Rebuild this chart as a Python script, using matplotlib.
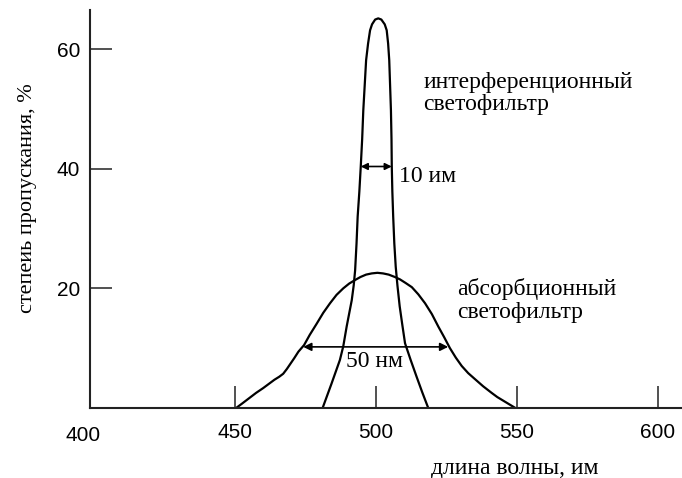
import numpy as np
import matplotlib
matplotlib.use("Agg")
import matplotlib.pyplot as plt

# wavelength (nm) and transmission (%)
interf_nm = [481.1, 484.2, 487.2, 488.4, 489.6, 490.5, 491.4, 492.1, 492.6, 493.1,
             493.5, 494.1, 494.6, 495.1, 495.5, 496.0, 496.5, 497.2, 497.9, 498.6,
             499.7, 500.8, 501.9, 503.1, 503.8, 504.3, 504.7, 505.0, 505.3, 505.5,
             505.6, 505.8, 506.1, 506.5, 507.0, 507.6, 508.4, 509.3, 510.3, 512.3,
             514.4, 516.4, 518.5]
interf_val = [0.0, 4.0, 8.0, 10.3, 13.6, 15.8, 18.0, 20.5, 23.0, 27.5,
              32.0, 36.2, 40.4, 45.0, 49.8, 54.0, 58.2, 61.0, 63.2, 64.2,
              65.0, 65.2, 65.0, 64.2, 63.2, 61.0, 58.2, 54.0, 49.8, 45.0,
              40.4, 36.2, 32.0, 27.5, 23.6, 20.5, 17.0, 14.0, 10.8, 8.0,
              5.2, 2.6, 0.0]

absorb_nm = [450.5, 452.5, 455.0, 457.5, 460.0, 462.0, 464.0, 465.7, 467.1, 468.4,
             469.7, 471.0, 472.5, 474.5, 476.5, 479.0, 481.3, 483.7, 486.0, 488.4,
             490.5, 492.6, 494.5, 496.5, 498.5, 500.5, 502.5, 504.5, 506.7, 508.5,
             510.5, 512.7, 515.0, 517.4, 519.8, 522.1, 524.2, 526.2, 528.3, 530.4,
             532.7, 535.1, 538.0, 541.0, 543.0, 545.1, 547.2, 549.3]
absorb_val = [0.0, 0.7, 1.6, 2.5, 3.3, 4.0, 4.7, 5.2, 5.7, 6.5,
              7.4, 8.3, 9.4, 10.5, 12.2, 14.1, 15.9, 17.5, 18.9, 20.0,
              20.8, 21.4, 21.9, 22.3, 22.5, 22.6, 22.5, 22.3, 21.9, 21.5,
              20.9, 20.2, 19.0, 17.5, 15.7, 13.6, 11.8, 10.0, 8.4, 7.0,
              5.8, 4.8, 3.6, 2.5, 1.8, 1.2, 0.6, 0.0]

x_ticks = [450, 500, 550, 600]
y_ticks = [20, 40, 60]

serif = "Liberation Serif"
sans = "Liberation Sans"

fig = plt.figure(figsize=(6.82, 4.78), dpi=100)
ax = fig.add_axes([90 / 682, 1 - 407.8 / 478, 592 / 682, 397.8 / 478])

ax.plot(interf_nm, interf_val, color="black", lw=1.6, solid_joinstyle="round")
ax.plot(absorb_nm, absorb_val, color="black", lw=1.6, solid_joinstyle="round")

ax.set_xlim(398.6, 608.5)
ax.set_ylim(0, 66.6)

for side in ["top", "right"]:
    ax.spines[side].set_visible(False)
for side in ["left", "bottom"]:
    ax.spines[side].set_linewidth(1.5)
    ax.spines[side].set_color("#222222")

ax.set_xticks(x_ticks)
ax.set_yticks(y_ticks)
ax.tick_params(direction="in", length=16, width=1.2, color="#333333",
               labelsize=15, pad=11)
ax.tick_params(axis="y", pad=7)
for lab in ax.get_xticklabels() + ax.get_yticklabels():
    lab.set_family(sans)
ax.text(396.1, -0.045, "400", transform=ax.get_xaxis_transform(), ha="center",
        va="top", fontsize=15, family=sans)

ax.set_xlabel("длина волны, им", family=serif, fontsize=17)
ax.xaxis.set_label_coords(0.718, -0.125)
ax.set_ylabel("степеиь пропускания, %", family=serif, fontsize=16)
ax.yaxis.set_label_coords(-0.09, 0.527)

# width arrows
ax.annotate("", xy=(494.6, 40.4), xytext=(505.6, 40.4),
            arrowprops=dict(arrowstyle="<|-|>", color="black", lw=1.2,
                            mutation_scale=10, shrinkA=0, shrinkB=0))
ax.annotate("", xy=(474.2, 10.2), xytext=(525.6, 10.2),
            arrowprops=dict(arrowstyle="<|-|>", color="black", lw=1.2,
                            mutation_scale=12, shrinkA=0, shrinkB=0))

ax.text(508.3, 38.7, "10 им", family=serif, fontsize=17, va="center")
ax.text(499.5, 7.7, "50 нм", family=serif, fontsize=17, ha="center", va="center")
ax.text(516.7, 52.6, "интерференционный\nсветофильтр", family=serif,
        fontsize=17, va="center", linespacing=1.1)
ax.text(528.6, 18.0, "абсорбционный\nсветофильтр", family=serif,
        fontsize=17, va="center", linespacing=1.1)

fig.savefig("out.png", dpi=100)
